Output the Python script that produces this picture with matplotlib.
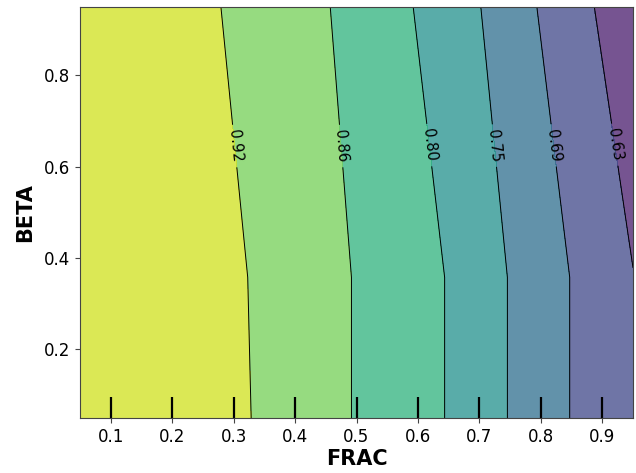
import numpy as np
import matplotlib
matplotlib.use("Agg")
import matplotlib.pyplot as plt

# Partial dependence grid: FRAC (columns) x BETA (rows)
frac_grid = [0.05, 0.15, 0.25, 0.35, 0.45, 0.55, 0.65, 0.75, 0.85, 0.95]
beta_grid = [0.05, 0.358, 0.95]

pd_beta_low = [0.977, 0.975, 0.960, 0.908, 0.878, 0.838, 0.801, 0.743, 0.686, 0.632]
pd_beta_mid = [0.977, 0.975, 0.960, 0.904, 0.878, 0.838, 0.801, 0.743, 0.686, 0.632]
pd_beta_high = [0.975, 0.970, 0.930, 0.893, 0.865, 0.814, 0.789, 0.706, 0.664, 0.572]

# Deciles of FRAC shown as rug marks along the bottom
frac_deciles = [0.1, 0.2, 0.3, 0.4, 0.5, 0.6, 0.7, 0.8, 0.9]

x_ticks = [0.1, 0.2, 0.3, 0.4, 0.5, 0.6, 0.7, 0.8, 0.9]
y_ticks = [0.2, 0.4, 0.6, 0.8]

# Where the contour labels sit (FRAC, BETA)
label_spots = [(0.298, 0.645), (0.470, 0.645), (0.602, 0.645),
               (0.713, 0.645), (0.809, 0.645), (0.903, 0.645)]

Z = np.array([pd_beta_low, pd_beta_mid, pd_beta_high])
XX, YY = np.meshgrid(frac_grid, beta_grid)
levels = np.linspace(Z.min(), Z.max(), num=8)

fig = plt.figure(figsize=(6.36, 4.73), dpi=100)
ax = fig.add_axes([80 / 636, 55 / 473, 553 / 636, 411 / 473])

ax.contourf(XX, YY, Z, levels=levels, vmin=levels[0], vmax=levels[-1],
            cmap="viridis", alpha=0.75)
cs = ax.contour(XX, YY, Z, levels=levels, colors="k", linewidths=0.7)
ax.clabel(cs, fmt="%2.2f", colors="k", fontsize=10.5, inline=True,
          manual=label_spots)

trans = ax.get_xaxis_transform()
ax.vlines(frac_deciles, 0, 0.05, transform=trans, color="k", linewidth=1.6)

ax.set_xlim(frac_grid[0], frac_grid[-1])
ax.set_ylim(beta_grid[0], beta_grid[-1])
ax.set_xticks(x_ticks)
ax.set_yticks(y_ticks)
ax.tick_params(labelsize=12, color="#444444")
for sp in ax.spines.values():
    sp.set_color("#444444")
ax.set_xlabel("FRAC", fontsize=15, fontweight="bold", labelpad=2)
ax.set_ylabel("BETA", fontsize=15, fontweight="bold", labelpad=6)

fig.savefig("out.png", dpi=100)
